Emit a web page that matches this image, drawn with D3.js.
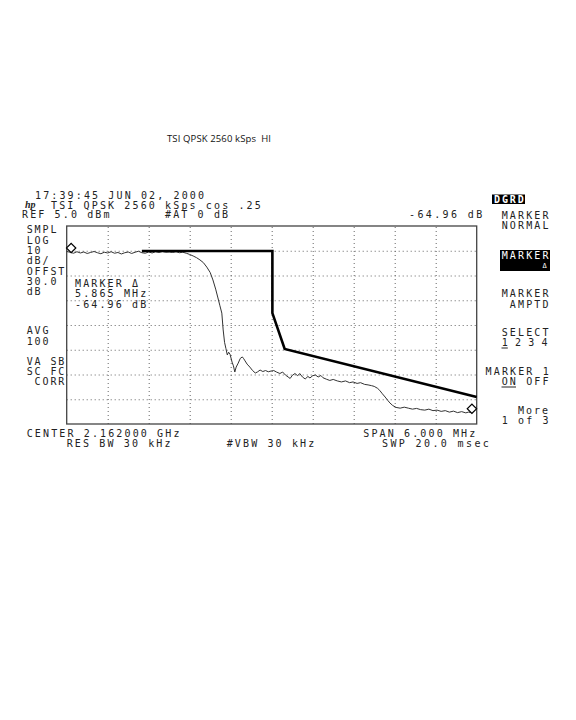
<!DOCTYPE html>
<html>
<head>
<meta charset="utf-8">
<script src="https://cdn.jsdelivr.net/npm/d3@7"></script>
<style>
  body { margin: 0; background: #fff; }
  svg text { font-family: "DejaVu Sans Mono", monospace; font-size: 10px; fill: #222; }
  svg text.title { font-family: "Open Sans", sans-serif; font-size: 9.5px; fill: #111; }
  .grid line { stroke: #666; stroke-width: 1; stroke-dasharray: 1 3; }
  .grid path { display: none; }
</style>
</head>
<body>
<svg class="screen" width="576" height="720"></svg>
<script>
// trace: offset from center (MHz) and level (dBm)
const trace_freq = [
  -3.00, -2.95, -2.90, -2.85, -2.80, -2.75, -2.70, -2.65, -2.60, -2.55,
  -2.50, -2.45, -2.40, -2.35, -2.30, -2.25, -2.20, -2.15, -2.10, -2.05,
  -2.00, -1.95, -1.90, -1.85, -1.80, -1.75, -1.70, -1.65, -1.60, -1.55,
  -1.50, -1.45, -1.40, -1.35, -1.30, -1.25, -1.20, -1.15, -1.10, -1.05,
  -1.00, -0.95, -0.90, -0.86, -0.82, -0.79, -0.76, -0.73, -0.71, -0.69,
  -0.67, -0.65, -0.63, -0.61, -0.58, -0.56, -0.54, -0.52, -0.49, -0.46,
  -0.43, -0.41, -0.39, -0.36, -0.32, -0.28, -0.24, -0.21, -0.17, -0.13,
  -0.09, -0.05, -0.01, 0.03, 0.07, 0.12, 0.16, 0.20, 0.24, 0.27,
  0.30, 0.34, 0.38, 0.41, 0.45, 0.49, 0.53, 0.56, 0.60, 0.64,
  0.68, 0.72, 0.75, 0.80, 0.85, 0.90, 0.96, 1.02, 1.08, 1.14,
  1.19, 1.25, 1.30, 1.36, 1.41, 1.46, 1.50, 1.55, 1.58, 1.62,
  1.66, 1.70, 1.73, 1.77, 1.82, 1.88, 1.94, 2.00, 2.06, 2.12,
  2.18, 2.24, 2.30, 2.36, 2.42, 2.48, 2.54, 2.60, 2.66, 2.72,
  2.78, 2.84, 2.88, 2.93, 2.97, 3.00
];
const trace_level = [
  -5.3, -5.6, -6.0, -5.4, -5.9, -5.5, -6.1, -5.7, -5.3, -5.8,
  -6.2, -5.6, -5.9, -5.4, -6.0, -5.7, -6.3, -5.8, -5.5, -6.1,
  -5.6, -5.2, -5.8, -6.0, -5.5, -5.9, -5.4, -5.7, -5.3, -5.6,
  -5.5, -5.7, -5.4, -5.8, -5.6, -6.0, -6.5, -7.1, -7.8, -8.7,
  -9.8, -11.6, -13.8, -16.8, -20.5, -23.7, -27.0, -30.2, -37.0, -42.0,
  -44.5, -47.1, -46.0, -46.8, -50.0, -51.5, -54.0, -52.0, -50.4, -48.5,
  -47.9, -48.6, -49.5, -50.8, -52.0, -53.4, -54.4, -54.0, -53.2, -53.8,
  -53.4, -53.9, -53.6, -53.4, -54.0, -54.6, -54.0, -55.2, -56.0, -56.6,
  -55.4, -54.6, -55.5, -54.6, -56.0, -56.8, -55.8, -56.4, -55.5, -55.2,
  -56.0, -55.4, -56.3, -56.9, -57.4, -57.0, -57.6, -58.0, -57.6, -58.3,
  -58.0, -58.6, -58.3, -59.0, -59.2, -59.5, -59.8, -60.6, -61.4, -62.8,
  -64.1, -65.5, -66.5, -67.5, -68.3, -68.6, -68.2, -68.6, -69.0, -68.7,
  -69.2, -69.4, -69.0, -69.6, -69.4, -69.9, -69.6, -70.2, -69.8, -70.4,
  -70.0, -70.5, -70.2, -70.5, -68.8, -68.0
];

// spectrum mask (thick line)
const mask_freq = [-1.9, 0.01, 0.01, 0.19, 3.0];
const mask_level = [-5.1, -5.1, -30.2, -44.7, -64.1];

// the two markers (delta marker pair)
const marker_freq = [-2.935, 2.93];
const marker_level = [-5.5, -70.46];

// screen settings
const span_mhz = [-3, 3];
const ref_level = 5;
const db_per_div = 10;
const n_xdiv = 10;
const n_ydiv = 8;

const svg = d3.select('svg.screen');

// graticule box
const g_left = 66.7, g_right = 476.7, g_top = 226, g_bottom = 424;

const x = d3.scaleLinear().domain(span_mhz).range([g_left, g_right]);
const y = d3.scaleLinear()
  .domain([ref_level - db_per_div * n_ydiv, ref_level])
  .range([g_bottom, g_top]);

const freq_grid = d3.range(1, n_xdiv).map(i => span_mhz[0] + i * (span_mhz[1] - span_mhz[0]) / n_xdiv);
const level_grid = d3.range(1, n_ydiv).map(i => ref_level - i * db_per_div);

// dotted grid via axes
svg.append('g').attr('class', 'grid')
  .attr('transform', `translate(0,${g_bottom})`)
  .call(d3.axisBottom(x).tickValues(freq_grid).tickSize(-(g_bottom - g_top)).tickFormat(''));

svg.append('g').attr('class', 'grid')
  .attr('transform', `translate(${g_left},0)`)
  .call(d3.axisLeft(y).tickValues(level_grid).tickSize(-(g_right - g_left)).tickFormat(''));

svg.append('rect')
  .attr('x', g_left).attr('y', g_top)
  .attr('width', g_right - g_left).attr('height', g_bottom - g_top)
  .attr('fill', 'none').attr('stroke', '#444').attr('stroke-width', 1.3);

const line = d3.line().x(d => x(d[0])).y(d => y(d[1]));

svg.append('path')
  .datum(d3.zip(trace_freq, trace_level))
  .attr('d', line)
  .attr('fill', 'none').attr('stroke', '#333').attr('stroke-width', 1);

svg.append('path')
  .datum(d3.zip(mask_freq, mask_level))
  .attr('d', line)
  .attr('fill', 'none').attr('stroke', '#000').attr('stroke-width', 2.6)
  .attr('stroke-linejoin', 'miter');

// diamond markers sit just above the trace point
svg.selectAll('path.mk')
  .data(d3.zip(marker_freq, marker_level))
  .join('path')
  .attr('class', 'mk')
  .attr('d', d3.symbol(d3.symbolSquare, 44))
  .attr('transform', d => `translate(${x(d[0])},${y(d[1]) - 4}) rotate(45)`)
  .attr('fill', '#fff').attr('stroke', '#000').attr('stroke-width', 1.2);

// screen annotations
function label(str, x0, yb, pitch = 8.15, color) {
  const t = svg.append('text')
    .attr('x', x0).attr('y', yb)
    .attr('letter-spacing', (pitch - 6.02).toFixed(2))
    .attr('xml:space', 'preserve')
    .style('white-space', 'pre')
    .text(str);
  if (color) t.style('fill', color);
  return t;
}

svg.append('text').attr('class', 'title')
  .attr('x', 167).attr('y', 141.5)
  .attr('textLength', 104).attr('lengthAdjust', 'spacing')
  .style('white-space', 'pre')
  .text('TSI QPSK 2560 kSps  HI');

// header
label('17:39:45 JUN 02, 2000', 35, 199);
svg.append('text')
  .attr('x', 25).attr('y', 208)
  .style('font-family', '"Liberation Serif", serif')
  .style('font-style', 'italic').style('font-weight', 'bold').style('font-size', '10px')
  .text('hp');
label('TSI QPSK 2560 kSps cos .25', 51, 208.5);
label('REF 5.0 dBm', 22, 218);
label('#AT 0 dB', 165, 218);
label('-64.96 dB', 409, 218, 8.4);

// left column
const left_col = [
  ['SMPL', 233], ['LOG', 243.5], ['10', 254], ['dB/', 264], ['OFFST', 274.5],
  ['30.0', 285], ['dB', 294.5], ['AVG', 334], ['100', 344.5],
  ['VA SB', 364.5], ['SC FC', 374.5], [' CORR', 385]
];
left_col.forEach(([s, yb]) => label(s, 26.7, yb, 7.9));

// marker readout inside graticule
label('MARKER Δ', 75, 286.5);
label('5.865 MHz', 75, 296.5);
label('-64.96 dB', 75, 308);

// bottom
label('CENTER 2.162000 GHz', 26.7, 436.7);
label('RES BW 30 kHz', 66.7, 446.7);
label('#VBW 30 kHz', 226.7, 446.7);
label('SPAN 6.000 MHz', 363.3, 436.7);
label('SWP 20.0 msec', 382, 446.7, 8.4);

// softkeys
svg.append('rect').attr('x', 492).attr('y', 194.5).attr('width', 33).attr('height', 9.5).attr('fill', '#000');
label('DGRD', 494, 202.8, 7.9, '#fff').style('font-weight', 'bold');

label('MARKER', 501.7, 219);
label('NORMAL', 501.7, 228.5);

svg.append('rect').attr('x', 500).attr('y', 250).attr('width', 50).attr('height', 21).attr('fill', '#000');
label('MARKER', 501.7, 258.5, 8.15, '#fff');
label('Δ', 542.5, 268, 8.15, '#fff').style('font-size', '7px');

label('MARKER', 501.7, 297);
label(' AMPTD', 501.7, 307.5);

label('SELECT', 501.7, 336);
label('1 2 3 4', 501.7, 346, 6.65);
svg.append('line').attr('x1', 501.5).attr('x2', 507.8).attr('y1', 348).attr('y2', 348).attr('stroke', '#222').attr('stroke-width', 1);

label('MARKER 1', 485.6, 375);
label('ON OFF', 501.7, 385);
svg.append('line').attr('x1', 501.5).attr('x2', 516).attr('y1', 387).attr('y2', 387).attr('stroke', '#222').attr('stroke-width', 1);

label('More', 518, 414, 8.0);
label('1 of 3', 501.7, 424);
</script>
</body>
</html>
